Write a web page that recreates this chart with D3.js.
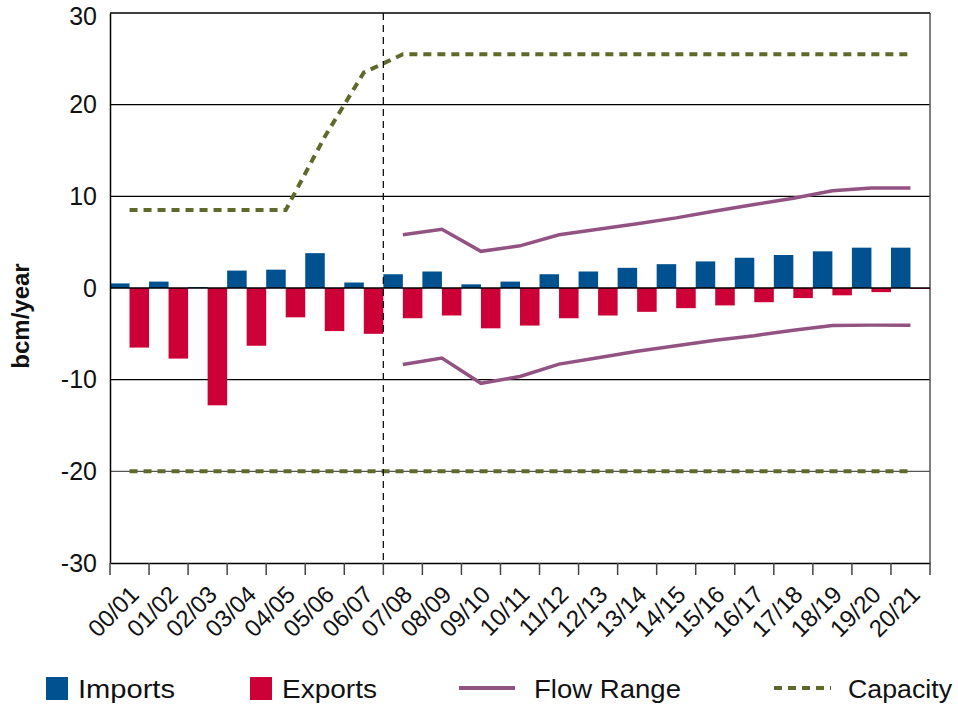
<!DOCTYPE html>
<html><head><meta charset="utf-8">
<script src="https://cdn.jsdelivr.net/npm/d3@7"></script>
<style>body{margin:0;background:#fff;} svg{display:block;font-family:"Liberation Sans",Arial,sans-serif;}</style>
</head><body><svg id="c" width="958" height="709"></svg>
<script>
const categories = ["00/01","01/02","02/03","03/04","04/05","05/06","06/07","07/08","08/09","09/10","10/11","11/12","12/13","13/14","14/15","15/16","16/17","17/18","18/19","19/20","20/21"];
const imports = [0.5,0.7,0.1,1.9,2.0,3.8,0.6,1.5,1.8,0.4,0.7,1.5,1.8,2.2,2.6,2.9,3.3,3.6,4.0,4.4,4.4];
const exports = [-6.5,-7.7,-12.8,-6.3,-3.2,-4.7,-5.0,-3.3,-3.0,-4.4,-4.1,-3.3,-3.0,-2.6,-2.2,-1.9,-1.55,-1.1,-0.8,-0.45,-0.1];
const flowUpper = [null,null,null,null,null,null,null,5.8,6.4,4.0,4.6,5.8,6.4,7.0,7.65,8.4,9.1,9.8,10.6,10.9,10.9];
const flowLower = [null,null,null,null,null,null,null,-8.35,-7.65,-10.4,-9.65,-8.3,-7.6,-6.9,-6.3,-5.7,-5.2,-4.6,-4.1,-4.05,-4.05];
const capacityUpper = [8.5,8.5,8.5,8.5,8.5,16.5,23.5,25.5,25.5,25.5,25.5,25.5,25.5,25.5,25.5,25.5,25.5,25.5,25.5,25.5,25.5];
const capacityLower = [-20,-20,-20,-20,-20,-20,-20,-20,-20,-20,-20,-20,-20,-20,-20,-20,-20,-20,-20,-20,-20];
const yTicks = [-30,-20,-10,0,10,20,30];
const yTickLabels = ["-30","-20","-10","0","10","20","30"];
const forecastStart = "07/08";
const legendItems = ["Imports","Exports","Flow Range","Capacity"];

const C = {imp:"#00518F", exp:"#CC0036", flow:"#935382", cap:"#5E6A2B"};
const svg = d3.select("#c");
const L = 110, R = 930, T = 13, B = 563;
const x = d3.scaleBand().domain(categories).range([L, R]).padding(0);
const y = d3.scaleLinear().domain([-30, 30]).range([B, T]);
const bw = x.bandwidth();

// gridlines
svg.append("g").selectAll("line").data(yTicks.filter(d => d !== 0 && d !== -30))
  .join("line").attr("x1", L).attr("x2", R).attr("y1", d => y(d)).attr("y2", d => y(d))
  .attr("stroke", d => d === -20 ? "#555" : "#000").attr("stroke-width", 1.2);
svg.append("line").attr("x1", R).attr("x2", R).attr("y1", T).attr("y2", B).attr("stroke", "#555").attr("stroke-width", 1.5);

// bars
svg.append("g").selectAll("rect").data(categories).join("rect")
  .attr("x", d => x(d)).attr("width", bw / 2)
  .attr("y", (d, i) => y(Math.max(0, imports[i]))).attr("height", (d, i) => Math.abs(y(imports[i]) - y(0)))
  .attr("fill", C.imp);
svg.append("g").selectAll("rect").data(categories).join("rect")
  .attr("x", d => x(d) + bw / 2).attr("width", bw / 2)
  .attr("y", y(0)).attr("height", (d, i) => Math.abs(y(exports[i]) - y(0)))
  .attr("fill", C.exp);

// zero line
svg.append("line").attr("x1", L).attr("x2", R).attr("y1", y(0)).attr("y2", y(0)).attr("stroke", "#000").attr("stroke-width", 1.5);

// axes
const yAxis = d3.axisLeft(y).tickValues(yTicks).tickSize(0).tickPadding(13)
  .tickFormat(d => yTickLabels[yTicks.indexOf(d)]);
const ya = svg.append("g").attr("transform", `translate(${L},0)`).call(yAxis);
ya.select(".domain").attr("stroke", "#000").attr("stroke-width", 1.5);
ya.selectAll("text").attr("font-size", 25).attr("fill", "#111").attr("font-family", "Liberation Sans, Arial, sans-serif");
ya.selectAll(".tick").filter(d => d === 30).select("text").attr("dy", "0.45em");

const xAxis = d3.axisBottom(x).tickSize(0).tickFormat("");
const xa = svg.append("g").attr("transform", `translate(0,${B})`).call(xAxis);
xa.select(".domain").attr("stroke", "#000").attr("stroke-width", 1.5);
// tick marks at band boundaries
const bounds = categories.map(d => x(d)).concat([R]);
svg.append("g").selectAll("line").data(bounds).join("line")
  .attr("x1", d => d).attr("x2", d => d).attr("y1", B).attr("y2", B + 12)
  .attr("stroke", "#444").attr("stroke-width", 1.5);
svg.append("g").selectAll("text").data(categories).join("text")
  .attr("transform", d => `translate(${x(d) + bw / 2 + 5},${B + 27}) rotate(-45)`)
  .attr("text-anchor", "end").attr("dy", "0.35em").attr("font-size", 24).attr("fill", "#111")
  .text(d => d);

// y title
svg.append("text").attr("transform", `translate(29,316) rotate(-90)`)
  .attr("text-anchor", "middle").attr("font-size", 24).attr("font-weight", "bold").attr("fill", "#111")
  .text("bcm/year");

// lines
const cx = d => x(d) + bw / 2;
const mk = arr => d3.line().defined((d, i) => arr[i] !== null).x(d => cx(d)).y((d, i) => y(arr[i]));
[flowUpper, flowLower].forEach(arr => {
  svg.append("path").datum(categories).attr("d", mk(arr)).attr("fill", "none")
    .attr("stroke", C.flow).attr("stroke-width", 3.5);
});
[capacityUpper, capacityLower].forEach(arr => {
  svg.append("path").datum(categories).attr("d", mk(arr)).attr("fill", "none")
    .attr("stroke", C.cap).attr("stroke-width", 4).attr("stroke-dasharray", "8,6");
});

// forecast divider
svg.append("line").attr("x1", x(forecastStart)).attr("x2", x(forecastStart)).attr("y1", T).attr("y2", B)
  .attr("stroke", "#111").attr("stroke-width", 1.3).attr("stroke-dasharray", "7,5");

// top border
svg.append("line").attr("x1", L).attr("x2", R).attr("y1", T).attr("y2", T).attr("stroke", "#000").attr("stroke-width", 1.2);

// legend
const lg = svg.append("g");
const ly = 698;
lg.append("rect").attr("x", 46).attr("y", 677).attr("width", 22).attr("height", 23).attr("fill", C.imp);
lg.append("rect").attr("x", 250).attr("y", 677).attr("width", 22).attr("height", 23).attr("fill", C.exp);
lg.append("line").attr("x1", 459).attr("x2", 515).attr("y1", 688).attr("y2", 688).attr("stroke", C.flow).attr("stroke-width", 4);
lg.append("line").attr("x1", 774).attr("x2", 831).attr("y1", 688).attr("y2", 688).attr("stroke", C.cap).attr("stroke-width", 4).attr("stroke-dasharray", "8,6");
const lpos = [[78, 97], [282, 95], [534, 147], [848, 104]];
lg.selectAll("text").data(legendItems).join("text")
  .attr("x", (d, i) => lpos[i][0]).attr("y", ly).attr("font-size", 25).attr("fill", "#111")
  .attr("textLength", (d, i) => lpos[i][1]).attr("lengthAdjust", "spacingAndGlyphs")
  .text(d => d);
</script></body></html>
